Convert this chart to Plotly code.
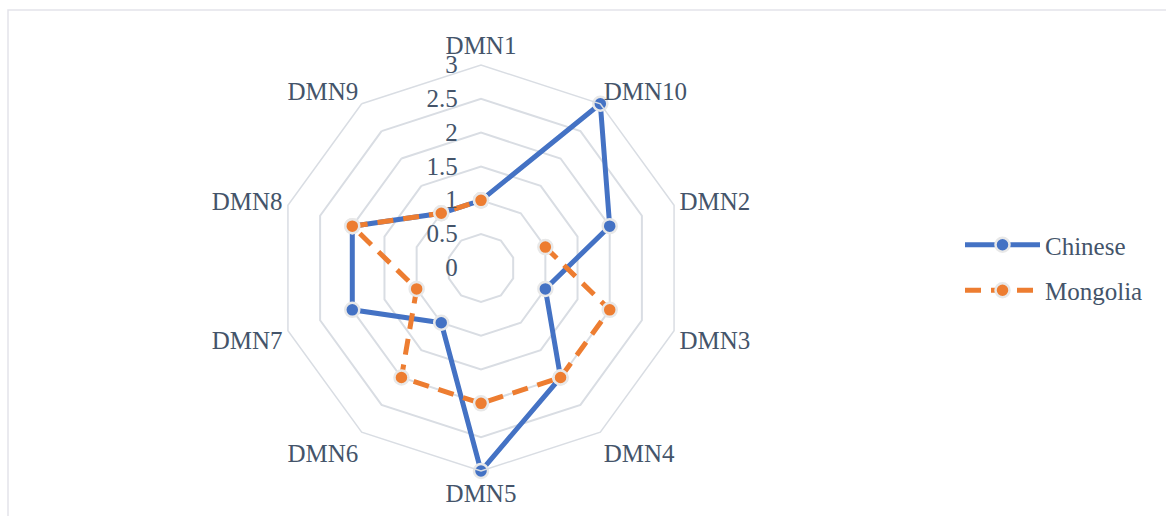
import plotly.graph_objects as go

categories = ["DMN1", "DMN10", "DMN2", "DMN3", "DMN4", "DMN5", "DMN6", "DMN7", "DMN8", "DMN9"]
chinese = [1, 3, 2, 1, 2, 3, 1, 2, 2, 1]
mongolia = [1, None, 1, 2, 2, 2, 2, 1, 2, 1]
radial_ticks = [0, 0.5, 1, 1.5, 2, 2.5, 3]

W, H = 1166, 516
cx, cy, R = 481, 268, 203
TEXT = "#44546a"
GRID = "#d9dde3"
FONT = "Liberation Serif, Times New Roman, serif"

# close the loops
cat_c = categories + [categories[0]]
chinese_c = chinese + [chinese[0]]
mongolia_c = mongolia + [mongolia[0]]

fig = go.Figure()
fig.add_trace(go.Scatterpolar(
    r=chinese_c, theta=cat_c, name="Chinese", mode="lines+markers",
    legendgroup="a",
    line=dict(color="#4472c4", width=5),
    marker=dict(size=14, color="#4472c4", line=dict(color="#e8e8e8", width=2.5)),
    connectgaps=False,
))
fig.add_trace(go.Scatterpolar(
    r=mongolia_c, theta=cat_c, name="Mongolia", mode="lines+markers",
    legendgroup="b",
    line=dict(color="#ed7d31", width=5, dash="16px,10px"),
    marker=dict(size=14, color="#ed7d31", line=dict(color="#e8e8e8", width=2.5)),
    connectgaps=False,
))

fig.update_layout(
    width=W, height=H,
    margin=dict(l=0, r=0, t=0, b=0),
    paper_bgcolor="white",
    font=dict(family=FONT, size=25, color=TEXT),
    polar=dict(
        domain=dict(x=[(cx - R) / W, (cx + R) / W], y=[(H - cy - R) / H, (H - cy + R) / H]),
        bgcolor="white",
        gridshape="linear",
        radialaxis=dict(
            range=[0, 3], tickvals=radial_ticks, ticktext=[str(t) for t in radial_ticks],
            angle=90, tickangle=90, side="counterclockwise",
            showline=False, gridcolor=GRID, gridwidth=1.5,
            ticks="outside", ticklen=14, tickcolor="rgba(0,0,0,0)",
            tickfont=dict(family=FONT, size=25, color=TEXT),
        ),
        angularaxis=dict(
            direction="clockwise", rotation=90,
            categoryorder="array", categoryarray=categories,
            showgrid=False, showline=True, linecolor=GRID, linewidth=1.5,
            ticks="", tickfont=dict(family=FONT, size=25, color=TEXT),
        ),
    ),
    legend=dict(
        x=960 / W, y=(H - 222) / H, xanchor="left", yanchor="top",
        font=dict(family=FONT, size=25, color=TEXT),
        tracegroupgap=10, itemwidth=75,
        bgcolor="rgba(0,0,0,0)",
    ),
    shapes=[dict(type="rect", xref="paper", yref="paper",
                 x0=8 / W, x1=1.01, y0=-0.05, y1=(H - 10) / H,
                 line=dict(color="#e3e3ea", width=1.5), fillcolor="rgba(0,0,0,0)", layer="below")],
)

fig.write_html("out.html")
